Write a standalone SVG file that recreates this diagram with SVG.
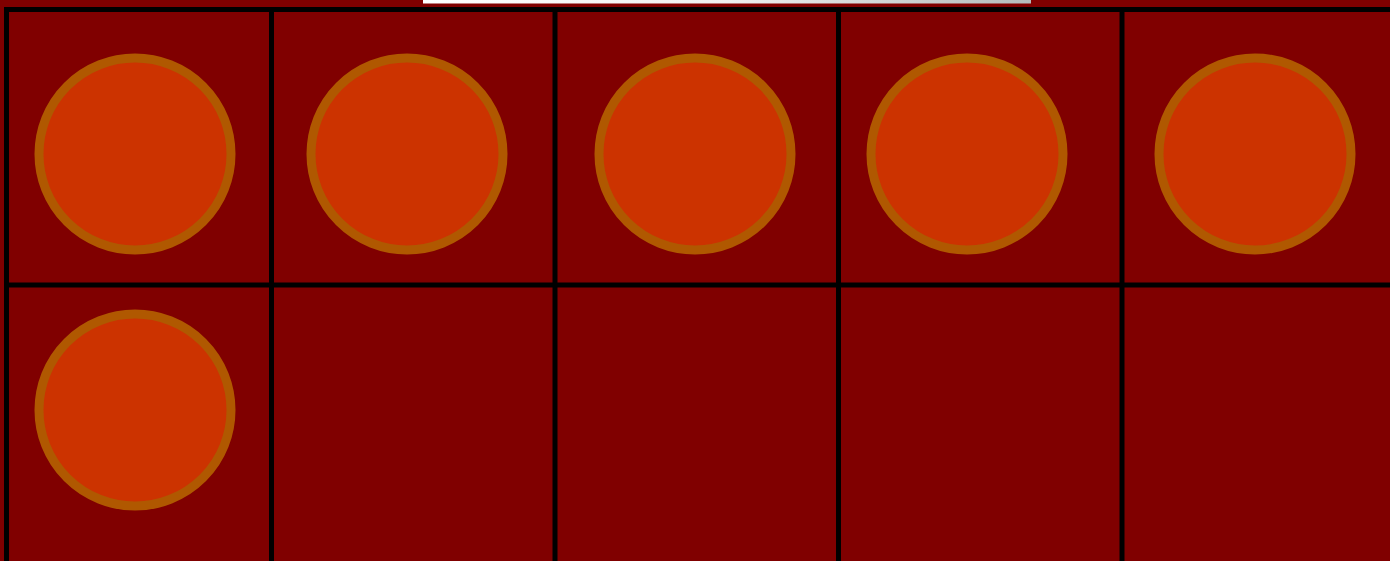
<svg xmlns="http://www.w3.org/2000/svg" width="1390" height="561" viewBox="0 0 1390 561">
  <defs>
    <linearGradient id="bar" x1="0" y1="0" x2="1" y2="0">
      <stop offset="0" stop-color="#ffffff"/>
      <stop offset="0.5" stop-color="#f0f0f0"/>
      <stop offset="1" stop-color="#b4bcbc"/>
    </linearGradient>
  </defs>
  <style>
    .grid { stroke: #000000; stroke-width: 5; fill: none; }
    .token { fill: #cc3300; stroke: #b05800; stroke-width: 9; }
  </style>
  <rect x="0" y="0" width="1390" height="561" fill="#800000"/>
  <rect x="423" y="0" width="608" height="3.5" fill="url(#bar)"/>
  <g id="grid-lines" class="grid">
    <line x1="4" y1="9.5" x2="1390" y2="9.5"/>
    <line x1="4" y1="285" x2="1390" y2="285"/>
    <line x1="6.5" y1="7" x2="6.5" y2="561"/>
    <line x1="271.5" y1="7" x2="271.5" y2="561"/>
    <line x1="555" y1="7" x2="555" y2="561"/>
    <line x1="838.5" y1="7" x2="838.5" y2="561"/>
    <line x1="1122" y1="7" x2="1122" y2="561"/>
  </g>
  <g id="token-1"><circle class="token" cx="135" cy="154" r="96"/></g>
  <g id="token-2"><circle class="token" cx="407" cy="154" r="96"/></g>
  <g id="token-3"><circle class="token" cx="695" cy="154" r="96"/></g>
  <g id="token-4"><circle class="token" cx="967" cy="154" r="96"/></g>
  <g id="token-5"><circle class="token" cx="1255" cy="154" r="96"/></g>
  <g id="token-6"><circle class="token" cx="135" cy="410" r="96"/></g>
</svg>
